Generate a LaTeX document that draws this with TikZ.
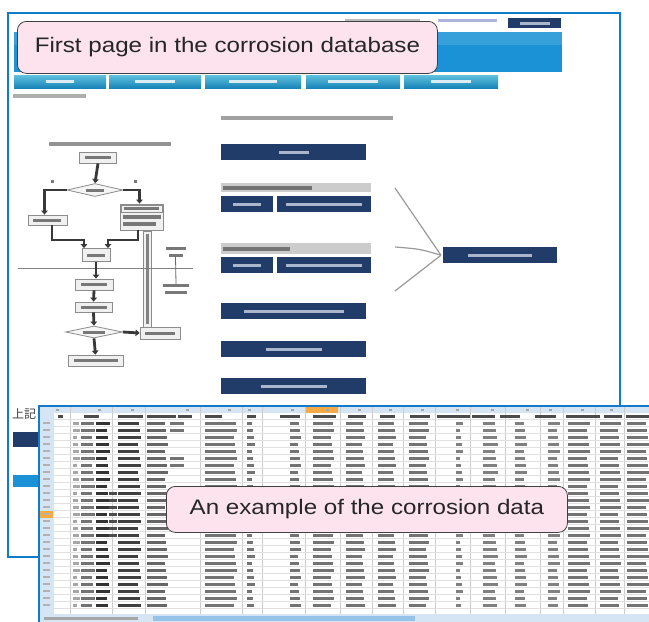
\documentclass[tikz,border=0pt]{standalone}
\usepackage{fontspec}
\setmainfont{Liberation Sans}
\newfontfamily\calloutfont{Liberation Sans}[FakeStretch=1.15]
\newfontfamily\cjkfont{Noto Sans CJK JP}
\usetikzlibrary{arrows.meta,shapes.geometric,calc}

\definecolor{frameblue}{RGB}{18,122,202}
\definecolor{bannerblue}{RGB}{28,146,214}
\definecolor{tabtop}{RGB}{96,192,222}
\definecolor{tabbot}{RGB}{22,132,184}
\definecolor{navy}{RGB}{34,60,106}
\definecolor{btntxt}{RGB}{170,182,204}
\definecolor{calloutpink}{RGB}{252,227,237}
\definecolor{sheetblue}{RGB}{214,229,244}
\definecolor{sheetorange}{RGB}{246,170,70}
\definecolor{txt}{RGB}{120,120,120}
\definecolor{linkblue}{RGB}{120,130,200}

% a short grey bar standing in for a line of small screen text
\newcommand\smudge[2][txt]{\textcolor{#1}{\rule[-1.2pt]{#2pt}{3pt}}}

\tikzset{
  pageframe/.style={draw=frameblue, line width=2pt},
  navybtn/.style={fill=navy, inner sep=0pt, minimum height=16pt, anchor=north west},
  grayhead/.style={fill=black!20, inner sep=0pt, anchor=north west},
  fbox/.style={draw=black!45, fill=black!6, line width=0.8pt, inner sep=0pt},
  fdiamond/.style={diamond, aspect=4, draw=black!45, fill=black!4, line width=0.8pt, inner sep=0pt},
  fl/.style={draw=black!78, line width=2.8pt, -{Triangle[length=4pt,width=6.5pt]}},
  fthin/.style={draw=black!60, line width=0.8pt},
  linkline/.style={draw=black!40, line width=1.2pt},
  callout/.style={rectangle, rounded corners=9pt, fill=calloutpink, draw=black!75,
    line width=0.8pt, text=black!85, inner sep=0pt, anchor=north west,
    font=\calloutfont\fontsize{21}{24}\selectfont},
}

\begin{document}
\begin{tikzpicture}[x=1pt, y=-1pt]
\useasboundingbox (0,0) rectangle (649,622);
\clip (0,0) rectangle (649,622);
\fill[white] (0,0) rectangle (649,622);

% ---------- first page of the database ----------
\fill[white] (8,13) rectangle (620,557);
\draw[pageframe] (8,13) rectangle (620,557);

% header line, link and login button
\fill[txt, opacity=0.5] (345,18.5) rectangle (420,22);
\fill[linkblue, opacity=0.6] (438,18.5) rectangle (497,22);
\node[navybtn, minimum width=53pt, minimum height=10pt] (login) at (508,18) {\smudge[btntxt]{30}};

% blue banner
\fill[bannerblue] (14,32) rectangle (562,72);
\fill[white, opacity=0.12] (14,32) rectangle (562,45);

% navigation tabs
\foreach \a/\b/\w [count=\i] in {14/106/28, 109/201/40, 205/301/48, 306/400/50, 404/498/40} {
  \node[inner sep=0pt, minimum width={\b-\a}, minimum height=13pt, anchor=north west,
        top color=tabtop, bottom color=tabbot] (tab\i) at (\a,75) {\smudge[white!85!tabbot]{\w}};
}

% breadcrumb
\fill[txt, opacity=0.6] (13,93.5) rectangle (86,97.5);

% button column heading
\fill[txt, opacity=0.7] (221,116) rectangle (393,120);

% buttons leading to the related databases
\node[navybtn, minimum width=145pt] (b1) at (221,144) {\smudge[btntxt]{30}};
\node[grayhead, minimum width=150pt, minimum height=9pt] (h1) at (221,183) {};
\fill[black!55] (223,185.5) rectangle (312,189.5);
\node[navybtn, minimum width=52pt] (b2a) at (221,196) {\smudge[btntxt]{28}};
\node[navybtn, minimum width=94pt] (b2b) at (277,196) {\smudge[btntxt]{76}};
\node[grayhead, minimum width=150pt, minimum height=11pt] (h2) at (221,243) {};
\fill[black!55] (223,246.5) rectangle (290,250.5);
\node[navybtn, minimum width=52pt] (b3a) at (221,257) {\smudge[btntxt]{28}};
\node[navybtn, minimum width=94pt] (b3b) at (277,257) {\smudge[btntxt]{76}};
\node[navybtn, minimum width=145pt] (b4) at (221,303) {\smudge[btntxt]{100}};
\node[navybtn, minimum width=145pt] (b5) at (221,341) {\smudge[btntxt]{56}};
\node[navybtn, minimum width=145pt] (b6) at (221,378) {\smudge[btntxt]{66}};
\node[navybtn, minimum width=114pt] (bR) at (443,247) {\smudge[btntxt]{64}};

% lines gathering into the right-hand button
\coordinate (g1) at (395,188);
\coordinate (g2) at (395,247);
\coordinate (g3) at (395,291);
\draw[linkline] (g1) -- ($(bR.west)+(-2,0)$);
\draw[linkline] (g2) .. controls (420,249) .. ($(bR.west)+(-2,0)$);
\draw[linkline] (g3) -- ($(bR.west)+(-2,0)$);

% ---------- flowchart of the corrosion survey ----------
\fill[txt, opacity=0.8] (49,141.5) rectangle (171,145.5);
\node[fbox, minimum width=37pt, minimum height=11pt] (fA) at (98,157.5) {\smudge{26}};
\node[fdiamond, minimum width=56pt, minimum height=13pt] (fD1) at (95,190) {\smudge{18}};
\fill[txt] (51,180) rectangle (54,183);
\fill[txt] (134,180) rectangle (137,183);
\node[fbox, minimum width=39pt, minimum height=10pt] (fL) at (47.5,220) {\smudge{28}};
\node[fbox, minimum width=43pt, minimum height=26pt] (fR) at (141.5,217) {};
\draw[black!45, line width=0.6pt] (121,205) rectangle (162,212);
\fill[txt] (124,207) rectangle (159,210);
\fill[txt] (123,215) rectangle (161,218.5);
\fill[txt] (123,222) rectangle (156,225.5);
\node[fbox, minimum width=28pt, minimum height=13pt] (fM) at (96,255) {\smudge{18}};
\node[fbox, minimum width=38pt, minimum height=11pt] (fS1) at (94,284.5) {\smudge{26}};
\node[fbox, minimum width=37pt, minimum height=10pt] (fS2) at (93.5,307) {\smudge{26}};
\node[fdiamond, minimum width=57pt, minimum height=12pt] (fD2) at (94,332) {\smudge{22}};
\node[fbox, minimum width=40pt, minimum height=12pt] (fX) at (160,333) {\smudge{30}};
\node[fbox, minimum width=55pt, minimum height=11pt] (fE) at (95.5,360.5) {\smudge{44}};
\node[fbox, line width=0.5pt, minimum width=8pt, minimum height=96pt] (fV) at (147,279) {};
\fill[txt, opacity=0.9] (145.5,234) rectangle (148.5,324);

% separator line of the two survey stages
\draw[black!50, line width=0.8pt] (18,268) -- (193,268);

% note on the right of the chart
\node[inner sep=0pt] (fN1) at (175.5,251.5) {\shortstack{\smudge{20}\\[1pt]\smudge{14}}};
\node[inner sep=0pt] (fN2) at (176,289) {\shortstack{\smudge{26}\\[1pt]\smudge{22}}};
\draw[fthin] (fN1.south) -- (fN2.north);

% flow connectors
\coordinate (lj) at (52,240);
\coordinate (rj) at (138,240);
\coordinate (lm) at (84,240);
\coordinate (rm) at (108,240);
\draw[fl] (fA.south) -- (fD1.north);
\draw[fl] (fD1.west) -| ($(fL.north)+(-3,0)$);
\draw[fl] (fD1.east) -| ($(fR.north)+(-2,0)$);
\draw[fl] (fL.south -| lj) -- (lj) -- (lm) -- (lm |- fM.north);
\draw[fl] (fR.south -| rj) -- (rj) -- (rm) -- (rm |- fM.north);
\draw[fl] (fM.south) -- (fM.south |- fS1.north);
\draw[fl] (fS1.south) -- (fS2.north);
\draw[fl] (fS2.south) -- (fD2.north);
\draw[fl] (fD2.east) -- (fX.west);
\draw[fl] (fD2.south) -- (fE.north);

% lower left corner of the page
\node[inner sep=0pt, anchor=west, text=black!75, font=\cjkfont\fontsize{12}{12}\selectfont] (jnote) at (12,414) {上記};
\fill[navy] (13,432) rectangle (39,447);
\fill[bannerblue] (13,475) rectangle (39,487);

% ---------- spreadsheet of corrosion data ----------
\fill[white] (39,406) rectangle (655,630);
% column letter strip and row number strip
\fill[sheetblue] (40,407) rectangle (655,413);
\fill[sheetorange] (306,407) rectangle (338,412.5);
\fill[sheetblue] (40,413) rectangle (54,614);
\fill[sheetorange] (40,511) rectangle (53,518);
\foreach \x in {70,112,145,200,242,262,305,340,372,403,435,470,505,540,563,595,624} {
  \draw[black!20, line width=0.4pt] (\x,407) -- (\x,614);
  \fill[black!35] (\x-14,409) rectangle (\x-11,411);
}
\foreach \r in {0,...,27} {
  \draw[black!12, line width=0.4pt] (54,419.5+7*\r) -- (655,419.5+7*\r);
}
% field names
\foreach \a/\b in {58/63, 84/99, 118/143, 147/176, 178/192, 205/222, 247/256, 280/300, 313/336, 348/366, 380/395, 410/430, 437/470, 472/495, 500/520, 535/556, 566/600, 604/622, 626/649} {
  \fill[black!70] (\a,414.5) rectangle (\b,418);
}
% data rows
\foreach \r in {0,...,26} {
  \pgfmathsetmacro\yy{423+7*\r}
  \fill[black!30] (43,\yy-1.2) rectangle (50,\yy+1.4);
  \foreach \a/\b/\c in {73/80/35, 81/95/55, 96/110/80, 118/141/75, 147/168/60, 205/237/55,
                        247/255/55, 290/301/55, 313/334/55, 346/365/55, 378/396/55, 409/429/55,
                        456/463/50, 483/498/50, 515/527/50, 548/560/50, 568/590/55, 600/621/55, 627/649/55} {
    \pgfmathsetmacro\bb{\b-mod(\r*3+\a,4)}
    \fill[black!\c] (\a,\yy-1.5) rectangle (\bb,\yy+1.7);
  }
}
\foreach \r in {10,...,16} {
  \fill[black!70] (109,423+7*\r-1.5) rectangle (117,423+7*\r+1.7);
}
\foreach \r in {0,1,5,6} {
  \fill[black!55] (170,423+7*\r-1.5) rectangle (184,423+7*\r+1.7);
}
% sheet tabs and scroll bar
\fill[sheetblue] (40,614) rectangle (655,622);
\fill[black!35] (44,617) rectangle (138,619.5);
\fill[frameblue!45] (153,615.5) rectangle (415,621);
\draw[pageframe] (655,406) -- (39,406) -- (39,630);

% ---------- captions ----------
\node[callout, minimum width=420pt, minimum height=52pt] (cap1) at (17,21) {First page in the corrosion database};
\node[callout, minimum width=401pt, minimum height=46pt] (cap2) at (166,486) {An example of the corrosion data};
\end{tikzpicture}
\end{document}
